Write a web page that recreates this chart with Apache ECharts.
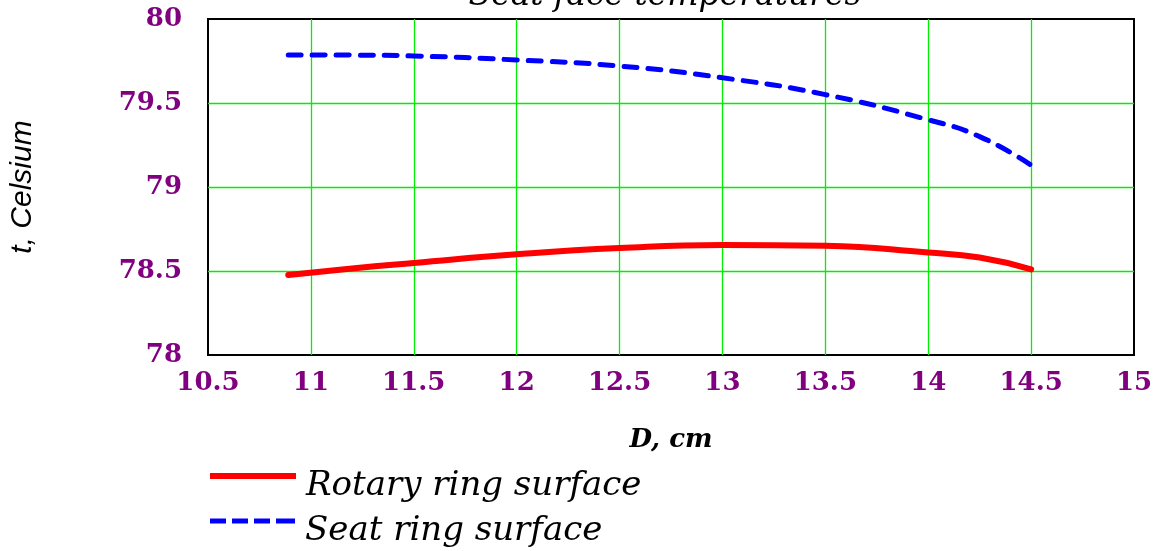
<!DOCTYPE html>
<html><head><meta charset="utf-8">
<script src="https://cdn.jsdelivr.net/npm/echarts@6/dist/echarts.min.js"></script>
<style>html,body{margin:0;padding:0;background:#fff}#c{width:1166px;height:551px}</style>
</head><body><div id="c"></div>
<script>
const xD = [10.89, 11.2, 11.5, 12, 12.5, 13, 13.5, 14, 14.25, 14.5];
const rotary = [78.476, 78.515, 78.548, 78.60, 78.637, 78.655, 78.65, 78.61, 78.58, 78.51];
const seat = [79.786, 79.785, 79.78, 79.756, 79.72, 79.65, 79.55, 79.40, 79.30, 79.13];
const xTicks = [10.5, 11, 11.5, 12, 12.5, 13, 13.5, 14, 14.5, 15];
const yTicks = [78, 78.5, 79, 79.5, 80];

const chart = echarts.init(document.getElementById('c'), null, {renderer:'canvas'});
const serif = '"DejaVu Serif", "Liberation Serif", serif';
const legendText = {fontFamily: serif, fontStyle: 'italic', fontSize: 34, color: '#000',
  rich: {a: {fontFamily: serif, fontStyle: 'italic', fontSize: 34, color: '#000', padding: [20, 0, 0, 5]}}};
chart.setOption({
  animation: false,
  backgroundColor: '#fff',
  title: {
    text: 'Seat face temperatures', left: 660, top: -25, textAlign: 'center',
    textStyle: {fontFamily: serif, fontStyle: 'italic', fontWeight: 'normal', fontSize: 33, color: '#000'}
  },
  grid: {left: 207, top: 19, width: 927, height: 336, show: true, borderColor: '#000', borderWidth: 2, backgroundColor: '#fff', z: 0},
  xAxis: {
    type: 'value', min: 10.5, max: 15, interval: 0.5,
    name: 'D, cm', nameLocation: 'middle', nameGap: 72,
    nameTextStyle: {fontFamily: serif, fontStyle: 'italic', fontWeight: 'bold', fontSize: 26, color: '#000'},
    axisLine: {show: false}, axisTick: {show: false},
    minorSplitLine: {show: false},
    splitLine: {show: true, showMinLine: false, showMaxLine: false, lineStyle: {color: '#00ee00', width: 1.3, opacity: 1}},
    axisLabel: {margin: 15, fontFamily: serif, fontWeight: 'bold', fontSize: 26, color: '#800080',
      formatter: v => xTicks.includes(v) ? String(v) : ''}
  },
  yAxis: {
    type: 'value', min: 78, max: 80, interval: 0.5,
    name: 't, Celsium', nameLocation: 'middle', nameGap: 170, nameRotate: 90,
    nameTextStyle: {fontFamily: '"Liberation Sans", Arial, sans-serif', fontStyle: 'italic', fontSize: 30, color: '#000'},
    axisLine: {show: false}, axisTick: {show: false},
    minorSplitLine: {show: false},
    splitLine: {show: true, showMinLine: false, showMaxLine: false, lineStyle: {color: '#00ee00', width: 1.3, opacity: 1}},
    axisLabel: {margin: 26, fontFamily: serif, fontWeight: 'bold', fontSize: 26, color: '#800080',
      formatter: v => yTicks.includes(v) ? String(v) : ''}
  },
  legend: [
    {left: 205, top: 464, itemWidth: 86, itemHeight: 6, itemGap: 14,
     icon: 'path://M0,0H86V6H0Z', textStyle: legendText, formatter: '{a|{name}}',
     data: [{name: 'Rotary ring surface', itemStyle: {color: '#ff0000'}}]},
    {left: 205, top: 509, itemWidth: 85, itemHeight: 5, itemGap: 14,
     icon: 'path://M0,0h16v5h-16zM22,0h16v5h-16zM44,0h16v5h-16zM66,0h19v5h-19z', textStyle: legendText, formatter: '{a|{name}}',
     data: [{name: 'Seat ring surface', itemStyle: {color: '#0000ff'}}]}
  ],
  series: [
    {name: 'Rotary ring surface', type: 'line', smooth: true, symbol: 'none',
     data: xD.map((x,i)=>[x, rotary[i]]), lineStyle: {color: '#ff0000', width: 6, cap: 'round'}, itemStyle: {color: '#ff0000'}},
    {name: 'Seat ring surface', type: 'line', smooth: true, symbol: 'none',
     data: xD.map((x,i)=>[x, seat[i]]), lineStyle: {color: '#0000ff', width: 5, type: [13, 11], cap: 'round'}, itemStyle: {color: '#0000ff'}}
  ]
});
</script></body></html>
